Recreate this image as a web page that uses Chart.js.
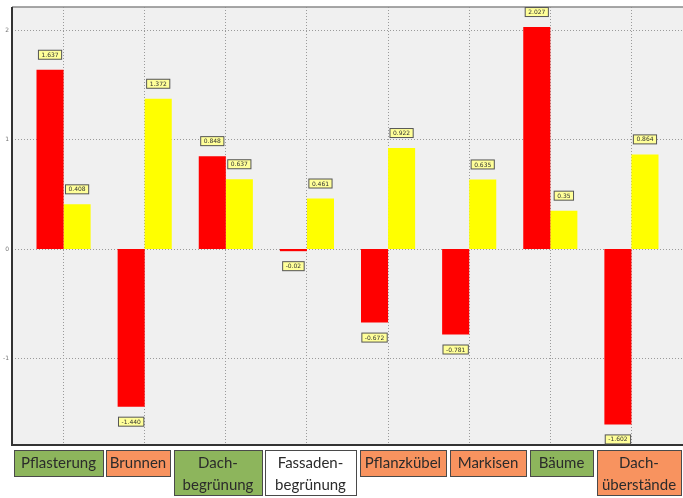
<!DOCTYPE html>
<html>
<head>
<meta charset="utf-8">
<script src="https://cdn.jsdelivr.net/npm/chart.js@4/dist/chart.umd.min.js"></script>
<style>
  html, body { margin: 0; padding: 0; background: #fff; }
  canvas { display: block; }
</style>
</head>
<body>
<canvas id="myChart" width="683" height="498"></canvas>
<script>
// data
const categories = ["Pflasterung", "Brunnen", "Dachbegrünung", "Fassadenbegrünung", "Pflanzkübel", "Markisen", "Bäume", "Dachüberstände"];
const redValues = [1.637, -1.44, 0.848, -0.02, -0.672, -0.781, 2.027, -1.602];
const yellowValues = [0.408, 1.372, 0.637, 0.461, 0.922, 0.635, 0.35, 0.864];
const redLabels = ["1.637", "-1.440", "0.848", "-0.02", "-0.672", "-0.781", "2.027", "-1.602"];
const yellowLabels = ["0.408", "1.372", "0.637", "0.461", "0.922", "0.635", "0.35", "0.864"];
const yTicks = [-1, 0, 1, 2];

// category boxes under the plot
const boxLines = [["Pflasterung"], ["Brunnen"], ["Dach-", "begrünung"], ["Fassaden-", "begrünung"], ["Pflanzkübel"], ["Markisen"], ["Bäume"], ["Dach-", "überstände"]];
const boxColors = ["#8db55c", "#f8935f", "#8db55c", "#ffffff", "#f8935f", "#f8935f", "#8db55c", "#f8935f"];
const boxLeft = [14, 106, 174, 265, 360, 450, 530, 597];
const boxRight = [103, 170, 262, 356, 446, 526, 593, 681];

const frame = {
    id: "frame",
    beforeDraw(chart) {
        const c = chart.ctx;
        const a = chart.chartArea;
        const y = chart.scales.y;
        c.save();
        c.fillStyle = "#f0f0f0";
        c.fillRect(12, a.top, 683 - 12, a.bottom - a.top);
        // horizontal grid lines across the whole frame
        c.strokeStyle = "#9a9a9a";
        c.lineWidth = 1;
        c.setLineDash([1, 2]);
        yTicks.forEach((v) => {
            const py = Math.round(y.getPixelForValue(v)) + 0.5;
            c.beginPath();
            c.moveTo(12, py);
            c.lineTo(683, py);
            c.stroke();
        });
        c.restore();
    },
    afterDraw(chart) {
        const c = chart.ctx;
        const a = chart.chartArea;
        const y = chart.scales.y;
        c.save();
        // frame lines
        c.strokeStyle = "#8a8a8a";
        c.lineWidth = 1.5;
        c.beginPath();
        c.moveTo(12, a.top);
        c.lineTo(683, a.top);
        c.stroke();
        c.strokeStyle = "#333";
        c.lineWidth = 2;
        c.beginPath();
        c.moveTo(12, a.top);
        c.lineTo(12, a.bottom);
        c.lineTo(683, a.bottom);
        c.stroke();

        // y tick labels
        c.fillStyle = "#777";
        c.font = "6px 'DejaVu Sans'";
        c.textAlign = "right";
        c.textBaseline = "middle";
        yTicks.forEach((v) => {
            c.fillText(String(v), 9, y.getPixelForValue(v));
        });

        // value labels
        c.font = "6px 'DejaVu Sans'";
        c.textAlign = "center";
        const sets = [redLabels, yellowLabels];
        chart.data.datasets.forEach((ds, di) => {
            const meta = chart.getDatasetMeta(di);
            meta.data.forEach((bar, i) => {
                const v = ds.data[i];
                const ly = v >= 0 ? bar.y - 15 : bar.y + 15;
                const txt = sets[di][i];
                const w = c.measureText(txt).width + 6;
                c.fillStyle = "#ffff99";
                c.fillRect(bar.x - w / 2, ly - 4.5, w, 9);
                c.strokeStyle = "#555";
                c.lineWidth = 1;
                c.strokeRect(bar.x - w / 2, ly - 4.5, w, 9);
                c.fillStyle = "#333";
                c.fillText(txt, bar.x, ly + 0.5);
            });
        });

        // category boxes
        c.font = "15px Lato";
        c.textBaseline = "middle";
        boxLines.forEach((lines, i) => {
            const h = lines.length > 1 ? 45 : 26;
            const x0 = boxLeft[i];
            const w = boxRight[i] - boxLeft[i];
            c.fillStyle = boxColors[i];
            c.fillRect(x0, 450, w, h);
            c.strokeStyle = "#4a4a4a";
            c.lineWidth = 1;
            c.strokeRect(x0 + 0.5, 450.5, w, h);
            c.fillStyle = "#2b2b2b";
            lines.forEach((t, k) => {
                c.fillText(t, x0 + w / 2, 463 + k * 22);
            });
        });
        c.restore();
    },
};

const ctx = document.getElementById("myChart");
const myChart = new Chart(ctx, {
    type: "bar",
    data: {
        labels: categories,
        datasets: [
            {
                label: "rot",
                data: redValues,
                backgroundColor: "#ff0000",
                borderWidth: 0,
            },
            {
                label: "gelb",
                data: yellowValues,
                backgroundColor: "#ffff00",
                borderWidth: 0,
            },
        ],
    },
    options: {
        responsive: false,
        animation: false,
        categoryPercentage: 0.667,
        barPercentage: 1.0,
        layout: {
            padding: { left: 23, right: 11, top: 7, bottom: 53 },
        },
        plugins: {
            legend: { display: false },
            tooltip: { enabled: false },
        },
        scales: {
            x: {
                offset: true,
                grid: {
                    offset: false,
                    drawTicks: false,
                    color: "#9a9a9a",
                    lineWidth: 1,
                },
                border: { display: false, dash: [1, 2] },
                ticks: { display: false },
            },
            y: {
                min: -1.79,
                max: 2.21,
                afterBuildTicks: (scale) => {
                    scale.ticks = yTicks.map((v) => ({ value: v }));
                },
                grid: { display: false, drawTicks: false },
                border: { display: false },
                ticks: { display: false },
            },
        },
    },
    plugins: [frame],
});
</script>
</body>
</html>
